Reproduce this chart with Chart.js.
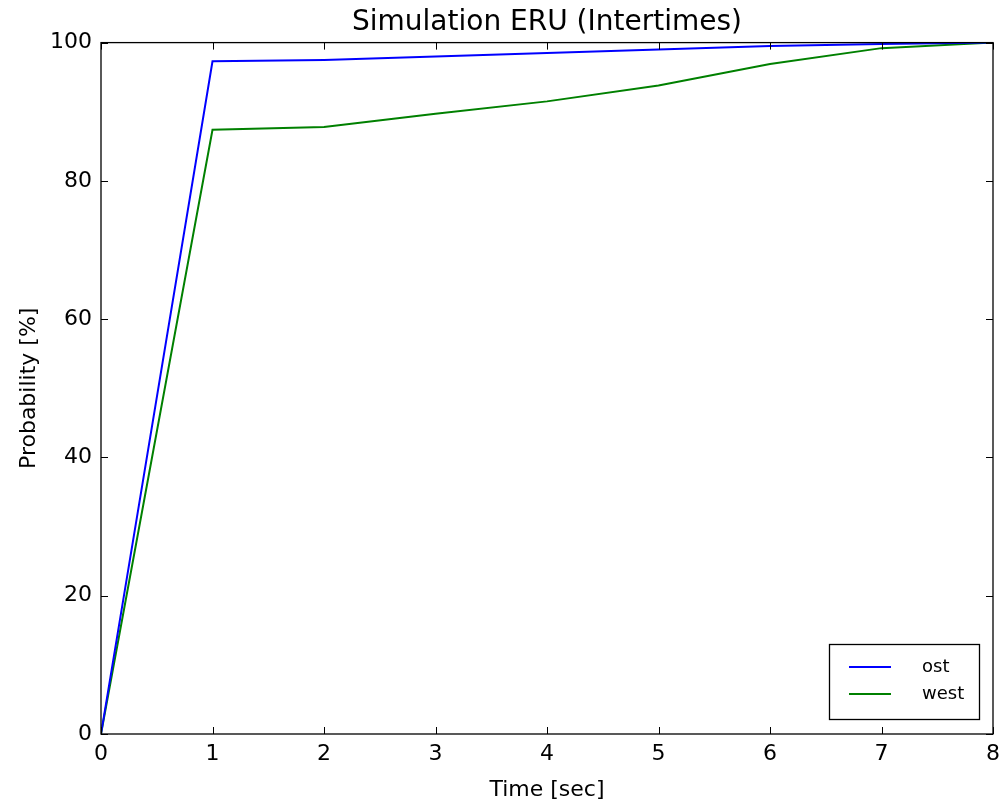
<!DOCTYPE html>
<html>
<head>
<meta charset="utf-8">
<script src="https://cdn.jsdelivr.net/npm/chart.js@4/dist/chart.umd.min.js"></script>
<style>
  html, body { margin: 0; padding: 0; background: #fff; }
  #wrap { width: 1002px; height: 807px; }
</style>
</head>
<body>
<div id="wrap"><canvas id="grafico" width="1002" height="807"></canvas></div>
<script>
const tempos = [0, 1, 2, 3, 4, 5, 6, 7, 8];
const ost = [0, 97.3, 97.5, 98.0, 98.5, 99.0, 99.5, 99.8, 100];
const west = [0, 87.4, 87.8, 89.7, 91.5, 93.8, 96.9, 99.2, 100];
const xTicks = [0, 1, 2, 3, 4, 5, 6, 7, 8];
const yTicks = [0, 20, 40, 60, 80, 100];

const fonte = "'DejaVu Sans', sans-serif";

// moldura e ticks para dentro, como no matplotlib
const moldura = {
    id: "moldura",
    afterDraw(chart) {
        const ctx = chart.ctx;
        const a = chart.chartArea;
        const sx = chart.scales.x, sy = chart.scales.y;
        ctx.save();
        ctx.strokeStyle = "#000";
        ctx.lineWidth = 1.3;
        ctx.strokeRect(a.left, a.top, a.right - a.left, a.bottom - a.top);
        ctx.lineWidth = 1;
        ctx.beginPath();
        xTicks.forEach(v => {
            const px = Math.round(sx.getPixelForValue(v)) + 0.5;
            ctx.moveTo(px, a.bottom); ctx.lineTo(px, a.bottom - 7);
            ctx.moveTo(px, a.top); ctx.lineTo(px, a.top + 7);
        });
        yTicks.forEach(v => {
            const py = Math.round(sy.getPixelForValue(v)) + 0.5;
            ctx.moveTo(a.left, py); ctx.lineTo(a.left + 7, py);
            ctx.moveTo(a.right, py); ctx.lineTo(a.right - 7, py);
        });
        ctx.stroke();

        // legenda
        const lx = 829, ly = 644, lw = 150, lh = 75;
        ctx.fillStyle = "#fff";
        ctx.fillRect(lx, ly, lw, lh);
        ctx.strokeStyle = "#000";
        ctx.lineWidth = 1.3;
        ctx.strokeRect(lx + 0.5, ly + 0.5, lw, lh);
        ctx.font = "18px " + fonte;
        ctx.textBaseline = "middle";
        chart.data.datasets.forEach((ds, i) => {
            const y = ly + 23 + i * 27;
            ctx.strokeStyle = ds.borderColor;
            ctx.lineWidth = 2;
            ctx.beginPath();
            ctx.moveTo(lx + 20, y); ctx.lineTo(lx + 62, y);
            ctx.stroke();
            ctx.fillStyle = "#000";
            ctx.fillText(ds.label, lx + 93, y);
        });
        ctx.restore();
    }
};

new Chart(document.getElementById("grafico"), {
    type: "line",
    data: {
        datasets: [
            {
                label: "ost",
                data: tempos.map((t, i) => ({ x: t, y: ost[i] })),
                borderColor: "#0000ff",
                borderWidth: 2,
                pointRadius: 0,
                tension: 0
            },
            {
                label: "west",
                data: tempos.map((t, i) => ({ x: t, y: west[i] })),
                borderColor: "#008000",
                borderWidth: 2,
                pointRadius: 0,
                tension: 0
            }
        ]
    },
    options: {
        responsive: false,
        animation: false,
        layout: { padding: { left: 0, right: 9, top: 0, bottom: 0 } },
        plugins: {
            legend: { display: false },
            tooltip: { enabled: false },
            title: {
                display: true,
                fullSize: false,
                text: "Simulation ERU (Intertimes)",
                color: "#000",
                font: { family: fonte, size: 28, weight: "normal" },
                padding: { top: 6, bottom: 3 }
            }
        },
        scales: {
            x: {
                type: "linear",
                min: 0,
                max: 8,
                afterFit(s) { s.height = 73; s.paddingLeft = 0; s.paddingRight = 0; },
                afterBuildTicks(s) { s.ticks = xTicks.map(v => ({ value: v })); },
                grid: { display: false, drawTicks: false },
                border: { display: false },
                ticks: { color: "#000", padding: 7, font: { family: fonte, size: 22 } },
                title: {
                    display: true,
                    text: "Time [sec]",
                    color: "#000",
                    font: { family: fonte, size: 22 },
                    padding: { top: 0, bottom: 4 }
                }
            },
            y: {
                min: 0,
                max: 100,
                afterFit(s) { s.width = 101; s.paddingTop = 0; s.paddingBottom = 0; },
                afterBuildTicks(s) { s.ticks = yTicks.map(v => ({ value: v })); },
                grid: { display: false, drawTicks: false },
                border: { display: false },
                ticks: { color: "#000", padding: 9, font: { family: fonte, size: 22 } },
                title: {
                    display: true,
                    text: "Probability [%]",
                    color: "#000",
                    font: { family: fonte, size: 22 },
                    padding: { top: 16, bottom: 0 }
                }
            }
        }
    },
    plugins: [moldura]
});
</script>
</body>
</html>
